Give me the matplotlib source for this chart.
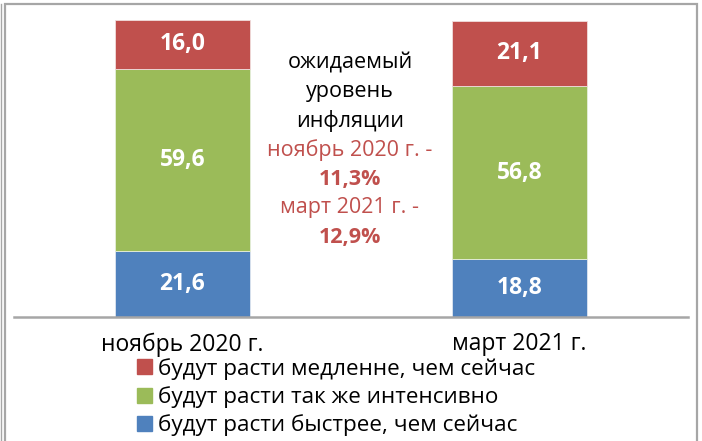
import matplotlib
matplotlib.use("Agg")
import matplotlib.pyplot as plt
from matplotlib.patches import Rectangle
from matplotlib.lines import Line2D
import numpy as np

plt.rcParams['font.family'] = ['Open Sans', 'DejaVu Sans']

CATEGORIES = ["ноябрь 2020 г.", "март 2021 г."]
FASTER = [21.6, 18.8]      # будут расти быстрее, чем сейчас
SAME = [59.6, 56.8]        # будут расти так же интенсивно
SLOWER = [16.0, 21.1]      # будут расти медленне, чем сейчас

SERIES_NAMES = ["будут расти медленне, чем сейчас",
                "будут расти так же интенсивно",
                "будут расти быстрее, чем сейчас"]

NOTE_LINES = [("ожидаемый", "black", "normal"),
              ("уровень", "black", "normal"),
              ("инфляции", "black", "normal"),
              ("ноябрь 2020 г. -", "#c0504d", "normal"),
              ("11,3%", "#c0504d", "bold"),
              ("март 2021 г. -", "#c0504d", "normal"),
              ("12,9%", "#c0504d", "bold")]

RED = "#c0504d"
GREEN = "#9bbb59"
BLUE = "#4f81bd"

W, H = 702, 441
fig = plt.figure(figsize=(W / 100, H / 100), dpi=100)

# outer chart frame
fig.add_artist(Rectangle((4.5 / W, -0.05), 692 / W, 1.05 - 4.5 / H,
                         transform=fig.transFigure, fill=False,
                         edgecolor="#a6a6a6", lw=1.6))
fig.add_artist(Line2D([1 / W, 1 / W], [0, 1 - 4 / H], transform=fig.transFigure,
                      color="#a6a6a6", lw=1.0))

ax = fig.add_axes([14 / W, (H - 317) / H, 674 / W, 312 / H])
x = np.arange(len(CATEGORIES))
faster = np.array(FASTER)
same = np.array(SAME)
slower = np.array(SLOWER)

b1 = ax.bar(x, faster, width=0.4, color=BLUE, edgecolor="#dfe6f0", lw=0.6)
b2 = ax.bar(x, same, width=0.4, bottom=faster, color=GREEN, edgecolor="#e6eedb", lw=0.6)
b3 = ax.bar(x, slower, width=0.4, bottom=faster + same, color=RED, edgecolor="#f0dddd", lw=0.6)

for vals, bottoms in [(faster, 0 * faster), (same, faster), (slower, faster + same)]:
    for xi, v, b in zip(x, vals, bottoms):
        ax.text(xi, b + v / 2, f"{v:.1f}".replace(".", ","), ha="center", va="center",
                color="white", fontsize=16.5, fontweight="bold")

ax.set_xlim(-0.5, 1.5)
ax.set_ylim(0, 102)
ax.set_xticks(x)
ax.set_xticklabels(CATEGORIES, fontsize=16.5)
ax.tick_params(axis="x", length=0, pad=11)
ax.set_yticks([])
for s in ["top", "left", "right"]:
    ax.spines[s].set_visible(False)
ax.spines["bottom"].set_color("#a6a6a6")
ax.spines["bottom"].set_linewidth(1.8)

# centre note
y0 = 63
for i, (txt, col, wt) in enumerate(NOTE_LINES):
    fig.text(350 / W, 1 - (y0 + i * 29) / H, txt, ha="center", va="center",
             color=col, fontweight=wt, fontsize=15.5)

# legend
handles = [Rectangle((0, 0), 1, 1, color=c) for c in [RED, GREEN, BLUE]]
fig.legend(handles, SERIES_NAMES, loc="upper left",
           bbox_to_anchor=(137 / W, 1 - 358 / H), frameon=False, fontsize=16.2,
           handlelength=0.65, handleheight=0.65, handletextpad=0.3,
           labelspacing=0.28, borderpad=0, borderaxespad=0)

fig.savefig("out.png", dpi=100)
